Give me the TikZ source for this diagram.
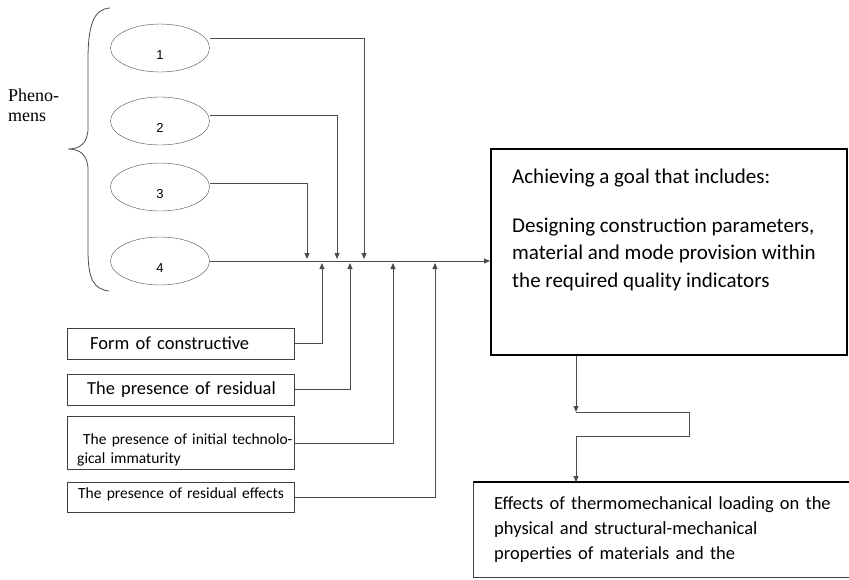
\documentclass[tikz,border=0pt]{standalone}
\usepackage{fontspec}
\setmainfont{Carlito}
\newfontfamily\phenfont{Liberation Serif}
\newfontfamily\numfont{Liberation Sans}
\usetikzlibrary{positioning,shapes,arrows.meta}

\tikzset{
  phen/.style={ellipse, draw=black!70, minimum width=99pt, minimum height=48pt, inner sep=0pt,
    text height=22pt, text depth=0pt, font=\numfont\fontsize{13}{15}\selectfont},
  factor/.style={draw=black!75, anchor=west, inner xsep=0pt, text width=227pt, align=left},
  link/.style={draw=black!70, line width=0.9pt},
  tip/.style={-{Triangle[length=6pt,width=5pt]}, shorten >=2pt}
}

\begin{document}
\begin{tikzpicture}[x=1pt,y=-1pt]
\useasboundingbox (0,0) rectangle (849,579);
\clip (0,0) rectangle (849,579);

% phenomena
\node[phen] (e1) at (160,48) {1};
\node[phen] (e2) at (160,121) {2};
\node[phen] (e3) at (160,187) {3};
\node[phen] (e4) at (160,261) {4};
\draw[black!70, line width=0.8pt] (110,8) .. controls (94,9) and (88,24) .. (88,60) -- (88,128)
  .. controls (88,143) and (80,149) .. (68,149) .. controls (80,149) and (88,155) .. (88,170)
  -- (88,250) .. controls (88,280) and (94,289) .. (109,291);
\node[anchor=west, align=left, inner sep=0pt, font=\phenfont\fontsize{18}{20}\selectfont] (phenlabel) at (8,105) {Pheno-\\mens};

% factors
\node[factor, minimum height=31pt, font=\fontsize{18.5}{22}\selectfont] (f1) at (67,343.5) {\mbox{\hspace*{23pt}Form of constructive}};
\node[factor, minimum height=31pt, font=\fontsize{18.4}{22}\selectfont] (f2) at (67,389.5) {\mbox{\hspace*{20pt}The presence of residual}};
\node[factor, minimum height=46pt, font=\fontsize{15.5}{19}\selectfont] (f3) at (67,443) {\mbox{\rule{0pt}{25pt}\hspace*{16pt}The presence of initial technolo-}\\\mbox{\hspace*{10pt}gical immaturity}};
\node[factor, minimum height=30pt, font=\fontsize{15.5}{19}\selectfont] (f4) at (67,497) {\mbox{\rule[-8pt]{0pt}{8pt}\hspace*{11pt}The presence of residual effects}};

% goal and effects
\node[draw=black, line width=2pt, minimum width=356pt, minimum height=206pt] (goal) at (669,252) {};
\node[anchor=west, align=left, inner sep=0pt, font=\fontsize{21}{27.5}\selectfont] (goaltext) at (512,230)
  {Achieving a goal that includes:\\[21pt]
   Designing construction parameters,\\
   material and mode provision within\\
   the required quality indicators};
\node[anchor=north west, inner xsep=21pt, text width=400pt,
  minimum height=95pt, align=left, font=\fontsize{18.5}{25}\selectfont] (effect) at (473,482)
  {Effects of thermomechanical loading on the\\
   physical and structural-mechanical\\
   properties of materials and the};
\draw[black, line width=1.4pt] (effect.north east) -- (effect.north west);
\draw[black!75, line width=1pt] (effect.north west) -- (effect.south west) -- (effect.south east);

% joints on the main line
\coordinate (j1) at (364,261);
\coordinate (j2) at (337,261);
\coordinate (j3) at (307,261);
\coordinate (k1) at (322,261);
\coordinate (k2) at (350,261);
\coordinate (k3) at (393,261);
\coordinate (k4) at (435,261);
\coordinate (b1) at (576,412);
\coordinate (b2) at (689,412);
\coordinate (b3) at (689,436);
\coordinate (b4) at (576,436);

\draw[link, -{Triangle[length=6pt,width=5pt]}] (e4.east) -- (goal.west |- e4.east);
\draw[link, tip] ([yshift=10pt]e1.east) -| (j1);
\draw[link, tip] ([yshift=6pt]e2.east) -| (j2);
\draw[link, tip] ([yshift=4pt]e3.east) -| (j3);
\draw[link, tip] (f1.east) -| (k1);
\draw[link, tip] (f2.east) -| (k2);
\draw[link, tip] (f3.east) -| (k3);
\draw[link, tip] (f4.east) -| (k4);

\draw[link, -{Triangle[length=6pt,width=5pt]}] (goal.south -| b1) -- (b1);
\draw[link] (b1) -- (b2) -- (b3) -- (b4);
\draw[link, -{Triangle[length=6pt,width=5pt]}] (b4) -- (b4 |- effect.north);
\end{tikzpicture}
\end{document}
